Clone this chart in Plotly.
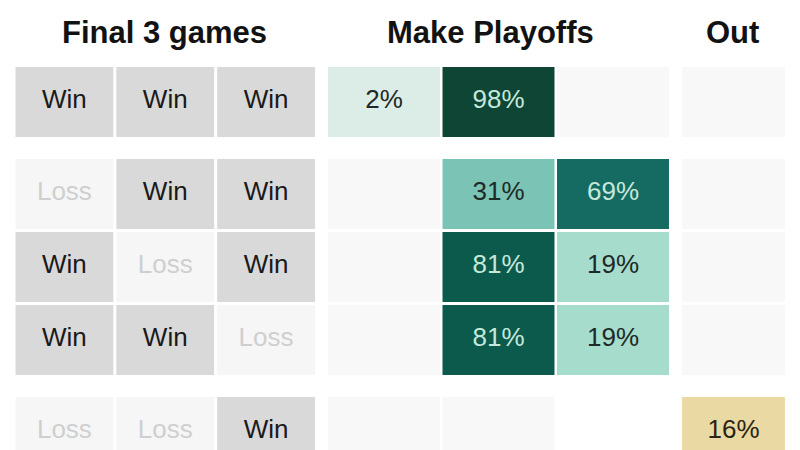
import plotly.graph_objects as go

# ---------------- data ----------------
section_titles = ["Final 3 games", "Make Playoffs", "Out"]
games = [
    ["Win", "Win", "Win"],
    ["Loss", "Win", "Win"],
    ["Win", "Loss", "Win"],
    ["Win", "Win", "Loss"],
    ["Loss", "Loss", "Win"],
]
playoff_pct = [
    [2, 98, None],
    [None, 31, 69],
    [None, 81, 19],
    [None, 81, 19],
    [None, None, None],
]
out_pct = [None, None, None, None, 16]
row_group = [0, 1, 1, 1, 2]
hidden_cells = [(4, 2)]  # playoff cells not drawn

# ---------------- styles ----------------
FONT = "Liberation Sans, Arial, sans-serif"
WIN_BG, LOSS_BG, EMPTY_BG = "#d9d9d9", "#f6f6f6", "#f8f8f8"
WIN_TX, LOSS_TX = "#1a1a1a", "#cfcfcf"
GROUP_GAP = 0.26
CELL_H = 0.96
green_scale = [
    [0.0, "#e6f3ee"], [0.02, "#dcede7"], [0.19, "#a6dccb"], [0.31, "#7ac3b5"],
    [0.69, "#156b62"], [0.81, "#0c5a4c"], [0.98, "#0f4535"], [1.0, "#0f4334"],
]
yellow_scale = [[0.0, "#fbf5e0"], [0.16, "#ead9a2"], [1.0, "#b89a3c"]]


def pct_text_color(v):
    return "#c4e8da" if v >= 50 else "#1e2a27"


row_pos = [i + GROUP_GAP * g for i, g in enumerate(row_group)]

fig = go.Figure()

# ---- games ----
gx, gb, gc, gt, gtc, gy = [], [], [], [], [], []
for r, row in enumerate(games):
    for c, res in enumerate(row):
        gx.append(c)
        gb.append(row_pos[r] - CELL_H / 2)
        gc.append(WIN_BG if res == "Win" else LOSS_BG)
        gt.append(res)
        gtc.append(WIN_TX if res == "Win" else LOSS_TX)
        gy.append(row_pos[r])
fig.add_trace(go.Bar(x=gx, y=[CELL_H] * len(gx), base=gb, width=0.97,
                     marker=dict(color=gc, line=dict(width=0)),
                     xaxis="x", yaxis="y", hoverinfo="skip"))
fig.add_trace(go.Scatter(x=gx, y=gy, mode="text", text=gt,
                         textfont=dict(family=FONT, size=26, color=gtc),
                         xaxis="x", yaxis="y", hoverinfo="skip"))

# ---- playoffs ----
px_, pb, pv, ex, eb = [], [], [], [], []
pt, ptc, py = [], [], []
for r, row in enumerate(playoff_pct):
    for c, v in enumerate(row):
        if (r, c) in hidden_cells:
            continue
        if v is None:
            ex.append(c)
            eb.append(row_pos[r] - CELL_H / 2)
        else:
            px_.append(c)
            pb.append(row_pos[r] - CELL_H / 2)
            pv.append(v)
            pt.append(f"{v}%")
            ptc.append(pct_text_color(v))
            py.append(row_pos[r])
fig.add_trace(go.Bar(x=ex, y=[CELL_H] * len(ex), base=eb, width=0.978,
                     marker=dict(color=EMPTY_BG, line=dict(width=0)),
                     xaxis="x2", yaxis="y", hoverinfo="skip"))
fig.add_trace(go.Bar(x=px_, y=[CELL_H] * len(px_), base=pb, width=0.978,
                     marker=dict(color=pv, colorscale=green_scale, cmin=0, cmax=100,
                                 line=dict(width=0)),
                     xaxis="x2", yaxis="y", hoverinfo="skip"))
fig.add_trace(go.Scatter(x=px_, y=py, mode="text", text=pt,
                         textfont=dict(family=FONT, size=26, color=ptc),
                         xaxis="x2", yaxis="y", hoverinfo="skip"))

# ---- out ----
ox, ob, ov, oex, oeb, ot, oy = [], [], [], [], [], [], []
for r, v in enumerate(out_pct):
    if v is None:
        oex.append(0)
        oeb.append(row_pos[r] - CELL_H / 2)
    else:
        ox.append(0)
        ob.append(row_pos[r] - CELL_H / 2)
        ov.append(v)
        ot.append(f"{v}%")
        oy.append(row_pos[r])
fig.add_trace(go.Bar(x=oex, y=[CELL_H] * len(oex), base=oeb, width=0.97,
                     marker=dict(color=EMPTY_BG, line=dict(width=0)),
                     xaxis="x3", yaxis="y", hoverinfo="skip"))
fig.add_trace(go.Bar(x=ox, y=[CELL_H] * len(ox), base=ob, width=0.97,
                     marker=dict(color=ov, colorscale=yellow_scale, cmin=0, cmax=100,
                                 line=dict(width=0)),
                     xaxis="x3", yaxis="y", hoverinfo="skip"))
fig.add_trace(go.Scatter(x=ox, y=oy, mode="text", text=ot,
                         textfont=dict(family=FONT, size=26, color="#2a2416"),
                         xaxis="x3", yaxis="y", hoverinfo="skip"))

hidden = dict(visible=False, fixedrange=True)
fig.update_layout(
    width=800, height=450, margin=dict(l=0, r=0, t=0, b=0),
    paper_bgcolor="white", plot_bgcolor="white", showlegend=False,
    barmode="overlay",
    xaxis=dict(domain=[14 / 800, 316.5 / 800], range=[-0.5, 2.5], anchor="y", **hidden),
    xaxis2=dict(domain=[326.75 / 800, 670.25 / 800], range=[-0.5, 2.5], anchor="y", **hidden),
    xaxis3=dict(domain=[680.5 / 800, 786.5 / 800], range=[-0.5, 0.5], anchor="y", **hidden),
    yaxis=dict(domain=[0, 1], range=[4.767, -1.397], **hidden),
)

title_x = [("x domain", 0.497), ("x2 domain", 0.4767), ("x3 domain", 0.487)]
for (xref, xv), t in zip(title_x, section_titles):
    fig.add_annotation(text=f"<b>{t}</b>", xref=xref, x=xv, xanchor="center",
                       yref="paper", y=1 - 32 / 450, yanchor="middle", showarrow=False,
                       font=dict(family=FONT, size=31, color="#121212"))

fig.write_html("out.html")
